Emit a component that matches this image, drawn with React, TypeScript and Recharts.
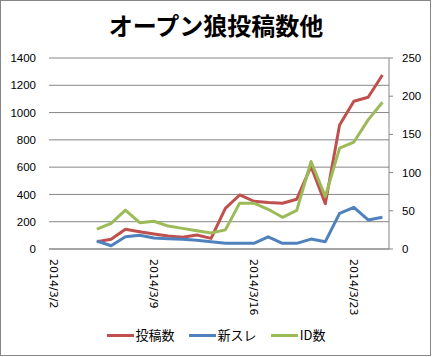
import React from 'react';
import { LineChart, Line, XAxis, YAxis, CartesianGrid } from 'recharts';

// dates of each data point
const dates = [
  '2014/3/5', '2014/3/6', '2014/3/7', '2014/3/8', '2014/3/9', '2014/3/10', '2014/3/11',
  '2014/3/12', '2014/3/13', '2014/3/14', '2014/3/15', '2014/3/16', '2014/3/17', '2014/3/18',
  '2014/3/19', '2014/3/20', '2014/3/21', '2014/3/22', '2014/3/23', '2014/3/24', '2014/3/25',
];

// 投稿数 (left axis)
const posts = [
  53, 71, 144, 127, 110, 95, 86, 103, 78, 298, 396, 350, 341, 335, 365, 605, 332, 909, 1083, 1112, 1275,
];

// 新スレ (right axis)
const threads = [
  10.5, 4.3, 16, 18, 14.4, 13.5, 12.7, 11.4, 9.6, 7.4, 7.4, 7.4, 16, 7.4, 7.4, 13, 9.6, 46.7, 54.6, 38, 41.5,
];

// ID数 (right axis)
const ids = [
  26, 33.6, 51, 34.4, 36.3, 30, 27, 24, 21, 25, 60, 60, 52, 41.5, 50.5, 114.5, 68.5, 132, 140, 169, 192,
];

const xTicks = [2, 9, 16, 23];
const leftTicks = [0, 200, 400, 600, 800, 1000, 1200, 1400];
const rightTicks = [0, 50, 100, 150, 200, 250];

const SERIES = [
  { key: 'posts', name: '投稿数', color: '#C0504D', axis: 'left' },
  { key: 'threads', name: '新スレ', color: '#4F81BD', axis: 'right' },
  { key: 'ids', name: 'ID数', color: '#9BBB59', axis: 'right' },
];

const GRID = '#868686';

// day of month from 'YYYY/M/D'
const dayOf = (s: string) => parseInt(s.split('/')[2], 10);

const data = dates.map((d, i) => ({
  day: dayOf(d),
  posts: posts[i],
  threads: threads[i],
  ids: ids[i],
}));

const DateTick = ({ x, y, payload }: any) => (
  <text
    x={x}
    y={y}
    transform={`rotate(90, ${x}, ${y})`}
    textAnchor="start"
    dy="0.35em"
    fontSize={11}
    fontFamily="DejaVu Sans"
    fill="#000"
  >
    {`2014/3/${payload.value}`}
  </text>
);

const tickStyle = { fontSize: 11.5, fontFamily: 'Liberation Sans', fill: '#000' };

export default function App() {
  return (
    <div
      style={{
        position: 'absolute',
        left: 0,
        top: 0,
        width: 432,
        height: 357,
        background: '#fff',
      }}
    >
      <div
        style={{
          position: 'absolute',
          left: 0,
          top: 0,
          width: 431,
          height: 356,
          border: `1px solid ${GRID}`,
          boxSizing: 'border-box',
        }}
      />
      <div
        style={{
          position: 'absolute',
          left: 0,
          top: 12,
          width: 432,
          height: 26,
          lineHeight: '26px',
          textAlign: 'center',
          fontSize: 24,
          fontWeight: 'bold',
          fontFamily: '"Noto Sans CJK JP"',
          color: '#000',
        }}
      >
        オープン狼投稿数他
      </div>

      <div style={{ position: 'absolute', left: 0, top: 0 }}>
        <LineChart width={432} height={357} data={data} margin={{ top: 58, right: 0, bottom: 0, left: 0 }}>
          <CartesianGrid yAxisId="left" horizontal vertical={false} stroke={GRID} strokeWidth={1} />
          <XAxis
            dataKey="day"
            type="number"
            domain={[1.65, 25.46]}
            ticks={xTicks}
            height={108}
            tickSize={0}
            tickMargin={10}
            tickLine={false}
            axisLine={{ stroke: GRID }}
            tick={<DateTick />}
            interval={0}
          />
          <YAxis
            yAxisId="left"
            orientation="left"
            domain={[0, 1400]}
            ticks={leftTicks}
            width={49}
            tickSize={0}
            tickMargin={13}
            axisLine={false}
            tickLine={false}
            tick={tickStyle}
            interval={0}
          />
          <YAxis
            yAxisId="right"
            orientation="right"
            domain={[0, 250]}
            ticks={rightTicks}
            width={43}
            tickSize={4}
            tickMargin={9}
            axisLine={{ stroke: GRID }}
            tickLine={{ stroke: GRID }}
            tick={tickStyle}
            interval={0}
          />
          {SERIES.map((s) => (
            <Line
              key={s.key}
              yAxisId={s.axis}
              dataKey={s.key}
              name={s.name}
              type="linear"
              stroke={s.color}
              strokeWidth={3}
              strokeLinejoin="round"
              dot={false}
              isAnimationActive={false}
            />
          ))}
        </LineChart>
      </div>

      <div
        style={{
          position: 'absolute',
          left: 0,
          top: 326,
          width: 432,
          height: 18,
          display: 'flex',
          justifyContent: 'center',
          alignItems: 'center',
          gap: 14,
          fontSize: 13,
          fontFamily: '"Noto Sans CJK JP"',
          color: '#000',
        }}
      >
        {SERIES.map((s) => (
          <div key={s.key} style={{ display: 'flex', alignItems: 'center' }}>
            <div style={{ width: 27, height: 3, background: s.color, marginRight: 2 }} />
            <span style={{ lineHeight: '18px' }}>{s.name}</span>
          </div>
        ))}
      </div>
    </div>
  );
}
